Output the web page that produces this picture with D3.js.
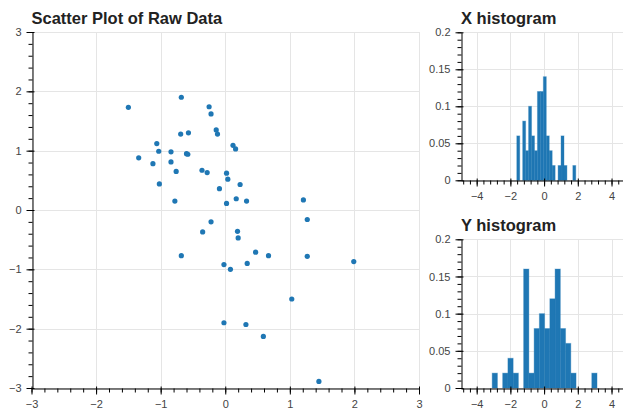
<!DOCTYPE html>
<html><head><meta charset="utf-8">
<script src="https://cdn.jsdelivr.net/npm/d3@7"></script>
<style>
html,body{margin:0;padding:0;background:#fff;}
svg{display:block;font-family:"Liberation Sans",Arial,Helvetica,sans-serif;}
</style></head>
<body><svg id="c" width="623" height="408"></svg>
<script>
// ---- data ----
const scatterX = [-1.50,-0.68,-0.25,-0.22,-0.14,-0.12,-0.69,-0.57,-1.06,0.12,0.16,-1.34,-1.03,-0.84,-0.60,-0.58,-1.12,-0.84,-0.76,-0.36,-0.28,0.02,0.04,0.23,-1.02,-0.09,0.17,0.33,-0.78,0.02,1.21,1.27,-0.22,-0.35,0.19,0.20,0.47,0.67,-0.68,1.27,1.99,-0.02,0.34,0.08,1.03,-0.02,0.32,0.59,1.45];
const scatterY = [1.73,1.90,1.74,1.62,1.35,1.28,1.28,1.30,1.12,1.09,1.03,0.88,0.99,0.98,0.95,0.94,0.78,0.81,0.65,0.67,0.63,0.62,0.52,0.43,0.44,0.36,0.19,0.15,0.15,0.11,0.17,-0.16,-0.20,-0.37,-0.36,-0.47,-0.71,-0.77,-0.77,-0.78,-0.87,-0.92,-0.90,-1.00,-1.50,-1.90,-1.93,-2.13,-2.89];
const xHistRange = [-1.62, 1.88];
const xHistDensity = [0.06,0,0.08,0.04,0.10,0.06,0.04,0.12,0.12,0.14,0.06,0.04,0.02,0,0.02,0.06,0.02,0,0,0.02];
const yHistRange = [-3.08, 3.14];
const yHistDensity = [0.02,0,0.02,0.04,0.02,0,0.16,0.02,0.08,0.10,0.08,0.12,0.16,0.08,0.06,0.02,0,0,0,0.02];
const scatterTicks = [-3,-2,-1,0,1,2,3];
const histXTicks = [-4,-2,0,2,4];
const histYTicks = [0,0.05,0.1,0.15,0.2];
const titles = ["Scatter Plot of Raw Data","X histogram","Y histogram"];

const svg = d3.select("#c");
const BLUE = "#1f77b4", GRID = "#e5e5e5", LABEL = "#444";

function minorTicks(domain, step){
  const out=[]; const n=Math.round((domain[1]-domain[0])/step);
  for(let i=0;i<=n;i++){ out.push(+(domain[0]+i*step).toFixed(6)); }
  return out;
}

function panel(opt){
  const g = svg.append("g");
  const x = d3.scaleLinear().domain(opt.xd).range(opt.xr);
  const y = d3.scaleLinear().domain(opt.yd).range(opt.yr);
  const [L,R] = opt.xr, [B,T] = opt.yr;
  // grid
  g.append("g").selectAll("line").data(opt.xt).join("line")
    .attr("x1",d=>Math.round(x(d))+0.5).attr("x2",d=>Math.round(x(d))+0.5)
    .attr("y1",T).attr("y2",B).attr("stroke",GRID);
  g.append("g").selectAll("line").data(opt.yt).join("line")
    .attr("y1",d=>Math.round(y(d))+0.5).attr("y2",d=>Math.round(y(d))+0.5)
    .attr("x1",L).attr("x2",R).attr("stroke",GRID);
  opt.draw(g,x,y);
  // x axis
  const xa = g.append("g").attr("transform",`translate(0,${Math.round(B)+0.5})`);
  xa.call(d3.axisBottom(x).tickValues(opt.xmin).tickSizeInner(4).tickSizeOuter(0).tickFormat(""));
  const xm = g.append("g").attr("transform",`translate(0,${Math.round(B)+0.5})`);
  xm.call(d3.axisBottom(x).tickValues(opt.xt).tickSizeInner(6).tickSizeOuter(0).tickPadding(6).tickFormat(opt.xf));
  xm.selectAll(".tick line").attr("y1",-2);
  xa.select(".domain").remove();
  // y axis
  const ya = g.append("g").attr("transform",`translate(${Math.round(L)+0.5},0)`);
  ya.call(d3.axisLeft(y).tickValues(opt.ymin).tickSizeInner(4).tickSizeOuter(0).tickFormat(""));
  ya.select(".domain").remove();
  const ym = g.append("g").attr("transform",`translate(${Math.round(L)+0.5},0)`);
  ym.call(d3.axisLeft(y).tickValues(opt.yt).tickSizeInner(6).tickSizeOuter(0).tickPadding(5).tickFormat(opt.yf));
  ym.selectAll(".tick line").attr("x1",2);
  [xa,xm,ya,ym].forEach(a=>{
    a.selectAll(".domain").attr("stroke","#000");
    a.selectAll(".tick line").attr("stroke","#000");
    a.selectAll("text").attr("fill",LABEL).style("font-size","11px").style("font-family","'Liberation Sans',Arial,sans-serif");
  });
  g.append("text").text(opt.title).attr("x",L).attr("y",opt.ty)
    .attr("fill","#222").style("font-weight","bold").style("font-size","16.5px");
}

// scatter
panel({
  xd:[-3,3], xr:[31.5,419], yd:[-3,3], yr:[388,32],
  xt:scatterTicks, yt:scatterTicks,
  xmin:minorTicks([-3,3],0.2), ymin:minorTicks([-3,3],0.2),
  xf:d3.format("d"), yf:d3.format("d"),
  title:titles[0], ty:23.5,
  draw:(g,x,y)=>{
    g.selectAll("circle").data(scatterX.map((v,i)=>[v,scatterY[i]])).join("circle")
      .attr("cx",d=>x(d[0])).attr("cy",d=>y(d[1])).attr("r",2.6).attr("fill",BLUE);
  }
});

function histDraw(range, dens){
  return (g,x,y)=>{
    const n = dens.length, w=(range[1]-range[0])/n;
    const bins = dens.map((d,i)=>({x0:range[0]+i*w, x1:range[0]+(i+1)*w, v:d})).filter(b=>b.v>0);
    g.selectAll("rect.bar").data(bins).join("rect").attr("class","bar")
      .attr("x",b=>x(b.x0)).attr("width",b=>x(b.x1)-x(b.x0))
      .attr("y",b=>y(b.v)).attr("height",b=>y(0)-y(b.v))
      .attr("fill",BLUE).attr("stroke",BLUE).attr("stroke-opacity",0.35).attr("stroke-width",1);
  };
}
const hf = d=> d===0 ? "0" : String(+d.toFixed(2));
panel({
  xd:[-4.93,4.77], xr:[461,624.5], yd:[0,0.2], yr:[180.3,32.3],
  xt:histXTicks, yt:histYTicks,
  xmin:minorTicks([-4.8,4.4],0.4), ymin:minorTicks([0,0.2],0.01),
  xf:d3.format("d"), yf:hf,
  title:titles[1], ty:23.5,
  draw:histDraw(xHistRange,xHistDensity)
});
panel({
  xd:[-4.93,4.77], xr:[461,624.5], yd:[0,0.2], yr:[388,239.3],
  xt:histXTicks, yt:histYTicks,
  xmin:minorTicks([-4.8,4.4],0.4), ymin:minorTicks([0,0.2],0.01),
  xf:d3.format("d"), yf:hf,
  title:titles[2], ty:231,
  draw:histDraw(yHistRange,yHistDensity)
});
</script></body></html>
